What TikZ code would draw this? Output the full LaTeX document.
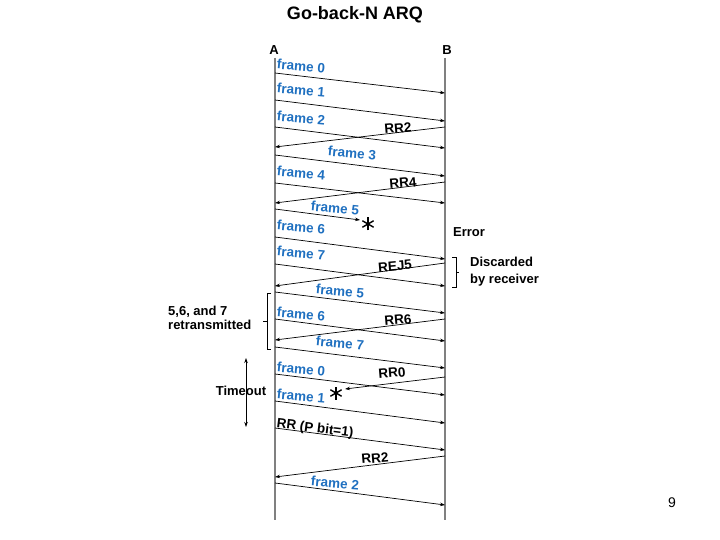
\documentclass[tikz,border=0pt]{standalone}
\usepackage{fontspec}
\setmainfont{Liberation Sans}
\usetikzlibrary{arrows.meta}
\definecolor{frmB}{RGB}{31,112,192}
\definecolor{lineG}{RGB}{128,128,128}

\begin{document}
\begin{tikzpicture}[x=1pt,y=-1pt,>={Stealth[length=5pt,width=3.5pt]},
  msg/.style={->,line width=0.7pt},
  frm/.style={font=\fontsize{13.5}{15}\selectfont\bfseries,text=frmB,inner sep=0pt,rotate=-5},
  ack/.style={font=\fontsize{13.5}{15}\selectfont\bfseries,inner sep=0pt,rotate=5},
  note/.style={font=\fontsize{13}{14.5}\selectfont\bfseries,inner sep=0pt,align=left}]
\useasboundingbox (0,0) rectangle (720,540);
% title and stations
\node[font=\fontsize{18}{20}\selectfont\bfseries] (title) at (355,15) {Go-back-N ARQ};
\node[note] (stA) at (274,50) {A};
\node[note] (stB) at (447,50) {B};
\coordinate (Atop) at (275,58); \coordinate (Abot) at (275,520);
\coordinate (Btop) at (445,58); \coordinate (Bbot) at (445,520);
\draw[lineG,line width=2pt] (Atop)--(Abot);
\draw[lineG,line width=2pt] (Btop)--(Bbot);
% A -> B
\foreach \n/\ya/\yb in {f0/73/93,f1/100/121,f2/127/148,f3/155/176,f4/183/203,
  f6/237/259,f7/264/286,g5/292/313,g6/319/341,g7/347/368,g0/374/395,g1/401/423,
  rrp/428/450,g2/483/505}
  {\coordinate (\n s) at (275,\ya); \coordinate (\n e) at (445,\yb);
   \draw[msg] (\n s)--(\n e);}
% B -> A
\foreach \n/\yb/\ya in {rr2/127/147,rr4/182/203,rej5/263/286,rr6/319/340,rrb/456/477}
  {\coordinate (\n s) at (445,\yb); \coordinate (\n e) at (275,\ya);
   \draw[msg] (\n s)--(\n e);}
% lost ones
\coordinate (f5s) at (275,209); \coordinate (f5e) at (360,220);
\draw[msg] (f5s)--(f5e);
\coordinate (rr0s) at (445,377); \coordinate (rr0e) at (345,389);
\draw[msg] (rr0s)--(rr0e);
\coordinate (lost5) at (368,224); \coordinate (lost0) at (336,393);
\foreach \a in {90,30,150}{
  \draw[line width=1.4pt] ([shift={(\a:6.5)}]lost5)--([shift={(\a+180:6.5)}]lost5);
  \draw[line width=1.4pt] ([shift={(\a:6.5)}]lost0)--([shift={(\a+180:6.5)}]lost0);}
% frame labels
\node[frm] (l0) at (301,66) {frame 0};
\node[frm] (l1) at (301,90) {frame 1};
\node[frm] (l2) at (301,118) {frame 2};
\node[frm] (l3) at (352,153) {frame 3};
\node[frm] (l4) at (301,173) {frame 4};
\node[frm] (l5) at (335,208) {frame 5};
\node[frm] (l6) at (301,227) {frame 6};
\node[frm] (l7) at (301,253) {frame 7};
\node[frm] (m5) at (340,291) {frame 5};
\node[frm] (m6) at (301,314) {frame 6};
\node[frm] (m7) at (340,343) {frame 7};
\node[frm] (m0) at (301,369) {frame 0};
\node[frm] (m1) at (301,396) {frame 1};
\node[frm] (m2) at (335,483) {frame 2};
% acks
\node[ack] (k2) at (398,128) {RR2};
\node[ack] (k4) at (403,183) {RR4};
\node[ack] (kj) at (395,266) {REJ5};
\node[ack] (k6) at (398,320) {RR6};
\node[ack] (k0) at (392,373) {RR0};
\node[ack,rotate=-12] (kp) at (315,429) {RR (P bit=1)};
\node[ack] (kb) at (375,458) {RR2};
% side notes
\node[note,anchor=west] (err) at (453,232) {Error};
\node[note,anchor=west,font=\fontsize{13}{17}\selectfont\bfseries] (disc) at (470,272) {Discarded\\by receiver};
\draw[line width=0.6pt] (452,257)--(456,257)--(456,287)--(452,287) (456,272)--(459,272);
\node[note,anchor=west] (retr) at (168,318) {5,6, and 7\\retransmitted};
\draw[line width=0.6pt] (271,293)--(267,293)--(267,349)--(271,349) (267,321)--(263,321);
\coordinate (to1) at (246,358); \coordinate (to2) at (246,427);
\draw[<->,line width=0.7pt] (to1)--(to2);
\node[note] (tout) at (241,391) {Timeout};
\node[font=\fontsize{14}{16}\selectfont] (pg) at (672,503) {9};
\end{tikzpicture}
\end{document}
